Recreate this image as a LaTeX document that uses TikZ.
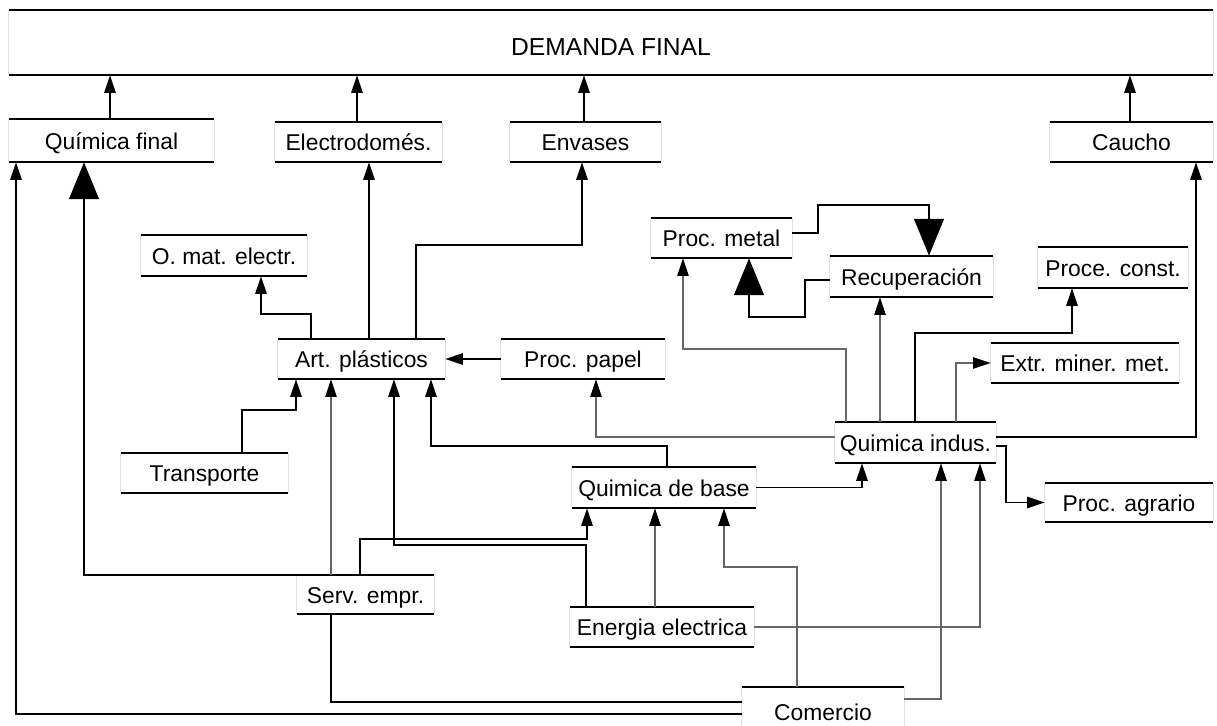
\documentclass[tikz,border=0pt]{standalone}
\usepackage{fontspec}
\setmainfont{Liberation Sans}
\usetikzlibrary{arrows.meta}

\begin{document}
\begin{tikzpicture}[x=0.02cm, y=-0.02cm,
    font=\fontsize{13}{15}\selectfont,
    sector/.style 2 args={minimum width=#1*0.02cm, minimum height=#2*0.02cm, inner sep=0pt,
                          text height=1em, text depth=0pt},
    rule/.style={line width=1.3pt},
    side/.style={black!12, thin},
    link/.style={line width=1pt},
    flow/.style={link, -{Triangle[width=6.5pt,length=10pt]}},
    faint/.style={line width=0.7pt, black!60, -{Triangle[width=6.5pt,length=10pt,color=black]}},
    bigflow/.style={link, -{Triangle[width=17pt,length=21pt]}}]

    \useasboundingbox (0,0) rectangle (1217,726);

    % Sectors
    \node[sector={1204}{65}, text height=1.5em, font=\fontsize{14}{16}\selectfont] (dem) at (611,42.5) {DEMANDA FINAL};
    \node[sector={205}{43}] (qfin) at (111.5,140.5) {Química final};
    \node[sector={167}{40}] (elec) at (358.5,142) {Electrodomés.};
    \node[sector={151}{40}] (env) at (585.5,142) {Envases};
    \node[sector={163}{40}] (cau) at (1131.5,142) {Caucho};
    \node[sector={166}{41}] (omat) at (224,255.5) {O. mat. electr.};
    \node[sector={141}{40}] (metal) at (721.5,238) {Proc. metal};
    \node[sector={163}{41}] (recup) at (911.5,276.5) {Recuperación};
    \node[sector={150}{41}] (pconst) at (1113,267.5) {Proce. const.};
    \node[sector={167}{40}] (artp) at (361.5,359) {Art. plásticos};
    \node[sector={164}{40}] (papel) at (583,359) {Proc. papel};
    \node[sector={188}{40}] (extr) at (1085,363) {Extr. miner. met.};
    \node[sector={161}{41}] (qind) at (915.5,442.5) {Quimica indus.};
    \node[sector={167}{40}] (transp) at (204.5,473) {Transporte};
    \node[sector={184}{41}] (qbase) at (664,487.5) {Quimica de base};
    \node[sector={168}{39}] (pagr) at (1129,502.5) {Proc. agrario};
    \node[sector={137}{39}] (serv) at (365.5,594.5) {Serv. empr.};
    \node[sector={184}{40}] (energ) at (662,627) {Energia electrica};
    \node[sector={162}{50}] (com) at (823,712) {Comercio};

    % Rules above and below each sector
    \foreach \n in {dem,qfin,elec,env,cau,omat,metal,recup,pconst,artp,papel,
                    extr,qind,transp,qbase,pagr,serv,energ,com} {
        \draw[rule] (\n.north west) -- (\n.north east);
        \draw[rule] (\n.south west) -- (\n.south east);
        \draw[side] (\n.north west) -- (\n.south west) (\n.north east) -- (\n.south east);
    }

    % Into final demand
    \draw[flow] (110,0 |- qfin.north) -- (110,0 |- dem.south);
    \draw[flow] (357,0 |- elec.north) -- (357,0 |- dem.south);
    \draw[flow] (584,0 |- env.north) -- (584,0 |- dem.south);
    \draw[flow] (1130,0 |- cau.north) -- (1130,0 |- dem.south);

    % Art. plasticos
    \draw[flow] (369,0 |- artp.north) -- (369,0 |- elec.south);
    \draw[flow] (416,0 |- artp.north) |- (582,245) -- (582,0 |- env.south);
    \draw[flow] (311,0 |- artp.north) |- (261,314) -- (261,0 |- omat.south);
    \draw[flow] (papel.west) -- (artp.east);
    \draw[flow] (242,0 |- transp.north) |- (296,410) -- (296,0 |- artp.south);
    \draw[faint] (331,0 |- serv.north) -- (331,0 |- artp.south);
    \draw[flow] (586,0 |- energ.north) |- (394,545) -- (394,0 |- artp.south);
    \draw[flow] (667,0 |- qbase.north) |- (431,446) -- (431,0 |- artp.south);

    % Quimica final
    \draw[bigflow] (serv.north west) -| (84,0 |- qfin.south);
    \draw[flow] (com.west |- 0,714) -| (16,0 |- qfin.south);
    \draw[link] (com.west |- 0,702) -| (331,0 |- serv.south);

    % Quimica de base
    \draw[flow] (360,0 |- serv.north) |- (587,539) -- (587,0 |- qbase.south);
    \draw[faint] (655,0 |- energ.north) -- (655,0 |- qbase.south);
    \draw[faint] (797,0 |- com.north) |- (724,567) -- (724,0 |- qbase.south);

    % Quimica indus.
    \draw[flow] (qbase.east) -| (862,0 |- qind.south);
    \draw[faint] (energ.east) -| (980,0 |- qind.south);
    \draw[faint] (com.east |- 0,699) -| (941,0 |- qind.south);
    \draw[faint] (qind.west |- 0,437) -| (596,0 |- papel.south);
    \draw[faint] (846,0 |- qind.north) |- (683,349) -- (683,0 |- metal.south);
    \draw[faint] (880,0 |- qind.north) -- (880,0 |- recup.south);
    \draw[flow] (915,0 |- qind.north) |- (1072,333) -- (1072,0 |- pconst.south);
    \draw[faint] (956,0 |- qind.north) |- (extr.west);
    \draw[flow] (qind.east |- 0,437) -| (1196,0 |- cau.south);
    \draw[flow] (qind.east |- 0,446) -- (1006,446) |- (pagr.west);

    % Proc. metal and Recuperacion
    \draw[bigflow] (metal.east |- 0,233) -| (818,205) -| (929,0 |- recup.north);
    \draw[bigflow] (recup.west |- 0,280) -| (805,317) -| (749,0 |- metal.south);
\end{tikzpicture}
\end{document}
